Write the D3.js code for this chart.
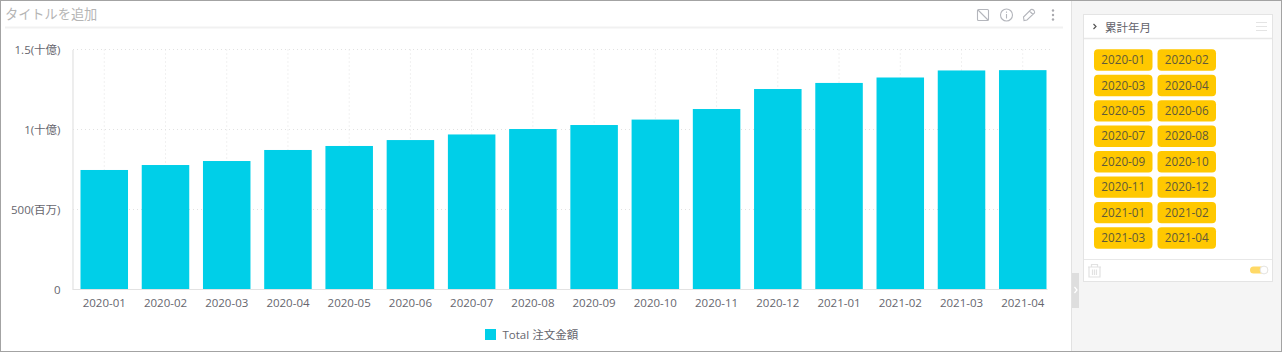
<!DOCTYPE html>
<html><head><meta charset="utf-8">
<script src="https://cdn.jsdelivr.net/npm/d3@7"></script>
<style>html,body{margin:0;padding:0;background:#fff;overflow:hidden}svg{display:block}text{font-family:"Open Sans","Noto Sans CJK JP",sans-serif}</style>
</head><body><div id="c"></div>
<script>
const months=["2020-01","2020-02","2020-03","2020-04","2020-05","2020-06","2020-07","2020-08","2020-09","2020-10","2020-11","2020-12","2021-01","2021-02","2021-03","2021-04"];
const totals=[747,778,803,872,897,934,969,1003,1028,1062,1128,1253,1291,1325,1369,1371];
const yTicks=[0,500,1000,1500];
const yTickLabels=["0","500(百万)","1(十億)","1.5(十億)"];
const chips=months;
const seriesName="Total 注文金額";
const titleText="タイトルを追加";
const filterTitle="累計年月";

const W=1282,H=352;
const svg=d3.select("#c").append("svg").attr("width",W).attr("height",H);
// frame
svg.append("rect").attr("width",W).attr("height",H).attr("fill","#fff");
svg.append("rect").attr("x",1071).attr("y",0).attr("width",211).attr("height",H).attr("fill","#f5f5f5");
svg.append("line").attr("x1",1071.5).attr("x2",1071.5).attr("y1",0).attr("y2",H).attr("stroke","#e2e2e2");
svg.append("rect").attr("x",.5).attr("y",.5).attr("width",W-1).attr("height",H-1).attr("fill","none").attr("stroke","#a3a3a3");
// title
svg.append("text").attr("x",5).attr("y",19).attr("font-size",13.2).attr("fill","#b5b5b5").text(titleText);
svg.append("line").attr("x1",5).attr("x2",1063).attr("y1",27.5).attr("y2",27.5).attr("stroke","#f1f1f1").attr("stroke-width",2);
// icons
const ic=svg.append("g").attr("fill","none").attr("stroke","#b4b6bc").attr("stroke-width",1.1);
ic.append("rect").attr("x",977.5).attr("y",9.5).attr("width",11).attr("height",11).attr("rx",1);
ic.append("line").attr("x1",978).attr("y1",10).attr("x2",988).attr("y2",20);
ic.append("circle").attr("cx",1006.5).attr("cy",15).attr("r",6);
ic.append("line").attr("x1",1006.5).attr("x2",1006.5).attr("y1",14).attr("y2",18.5);
ic.append("line").attr("x1",1006.5).attr("x2",1006.5).attr("y1",11.5).attr("y2",12.8);
ic.append("path").attr("d","M1024 20.5 L1023.5 17 L1031 9.5 Q1032.5 9 1034 10.5 Q1035 12 1034.5 13 L1027 20 Z M1029.5 11 L1033 14.5");
[10.5,15,19.5].forEach(y=>svg.append("circle").attr("cx",1053).attr("cy",y).attr("r",1.2).attr("fill","#a8a8ae"));

// chart
const x=d3.scaleBand().domain(months).range([73,1054]).paddingInner(0.224).paddingOuter(0.1225);
const y=d3.scaleLinear().domain([0,1500]).range([289.5,49.5]);
const grid=svg.append("g").attr("stroke","#e2e2e2").attr("stroke-dasharray","1 3").attr("fill","none");
yTicks.slice(1).forEach(v=>grid.append("line").attr("x1",73).attr("x2",1053).attr("y1",y(v)).attr("y2",y(v)));
months.forEach(m=>{const cx=x(m)+x.bandwidth()/2;grid.append("line").attr("x1",cx).attr("x2",cx).attr("y1",49.5).attr("y2",289.5);});

svg.append("g").selectAll("rect").data(months).join("rect")
 .attr("x",d=>x(d)).attr("width",x.bandwidth())
 .attr("y",(d,i)=>y(totals[i])).attr("height",(d,i)=>y(0)-y(totals[i])).attr("fill","#00cfe8");

const yAxis=d3.axisLeft(y).tickValues(yTicks).tickSize(0).tickPadding(12).tickFormat((d,i)=>yTickLabels[i]);
const gy=svg.append("g").attr("transform","translate(72.5,0)").call(yAxis);
gy.select(".domain").attr("stroke","#e2e2e2").attr("stroke-width",1.2);
gy.selectAll("text").attr("font-size",11.5).attr("fill","#66666e").attr("font-family",null);
const xAxis=d3.axisBottom(x).tickSize(0).tickPadding(9);
const gx=svg.append("g").attr("transform","translate(0,289.5)").call(xAxis);
gx.select(".domain").attr("stroke","#e2e2e2").attr("stroke-width",1.2).attr("d","M73,0H1047.5");
gx.selectAll("text").attr("font-size",11.5).attr("fill","#66666e").attr("font-family",null);

// legend
svg.append("rect").attr("x",485).attr("y",329).attr("width",11).attr("height",11).attr("fill","#00cfe8");
svg.append("text").attr("x",502.5).attr("y",339).attr("font-size",11.5).attr("fill","#66666e").text(seriesName);

// filter panel
svg.append("rect").attr("x",1083.5).attr("y",14.5).attr("width",189).attr("height",267).attr("fill","#fff").attr("stroke","#e4e4e4");
svg.append("line").attr("x1",1084).attr("x2",1272).attr("y1",38.5).attr("y2",38.5).attr("stroke","#e8e8e8").attr("stroke-width",1.5);
svg.append("line").attr("x1",1084).attr("x2",1272).attr("y1",259.5).attr("y2",259.5).attr("stroke","#e8e8e8");
svg.append("path").attr("d","M1093.5 24 L1096 26.5 L1093.5 29").attr("fill","none").attr("stroke","#555").attr("stroke-width",1.2);
svg.append("text").attr("x",1105).attr("y",32).attr("font-size",11.5).attr("fill","#62626a").text(filterTitle);
[22.5,26.5,30.5].forEach(yy=>svg.append("line").attr("x1",1256).attr("x2",1267).attr("y1",yy).attr("y2",yy).attr("stroke","#e4e4e4"));

const chip=svg.append("g").selectAll("g").data(chips).join("g")
 .attr("transform",(d,i)=>`translate(${i%2?1157.5:1094},${49.3+Math.floor(i/2)*25.43})`);
chip.append("rect").attr("width",58.5).attr("height",21.4).attr("rx",4).attr("fill","#ffc800");
chip.append("text").attr("x",29.3).attr("y",14.8).attr("text-anchor","middle").attr("font-size",11.7).attr("fill","#5f5a3a").text(d=>d);

// trash
const tr=svg.append("g").attr("fill","none").attr("stroke","#e2e2e2").attr("stroke-width",1.2);
tr.append("path").attr("d","M1088 267 H1101 M1091.5 267 V264.5 H1097.5 V267 M1089 267 V277 H1100 V267 M1092.5 269.5 V275 M1094.5 269.5 V275 M1096.5 269.5 V275");
// toggle
svg.append("rect").attr("x",1250).attr("y",266.5).attr("width",18).attr("height",7).attr("rx",3.5).attr("fill","#ffd966");
svg.append("circle").attr("cx",1264).attr("cy",270).attr("r",3.9).attr("fill","#fff").attr("stroke","#e4e4e4");
// collapse handle
svg.append("rect").attr("x",1072).attr("y",273).attr("width",7).attr("height",35).attr("fill","#dedede");
svg.append("path").attr("d","M1074.5 287 L1077 290 L1074.5 293").attr("fill","none").attr("stroke","#fff").attr("stroke-width",1.2);
</script></body></html>
